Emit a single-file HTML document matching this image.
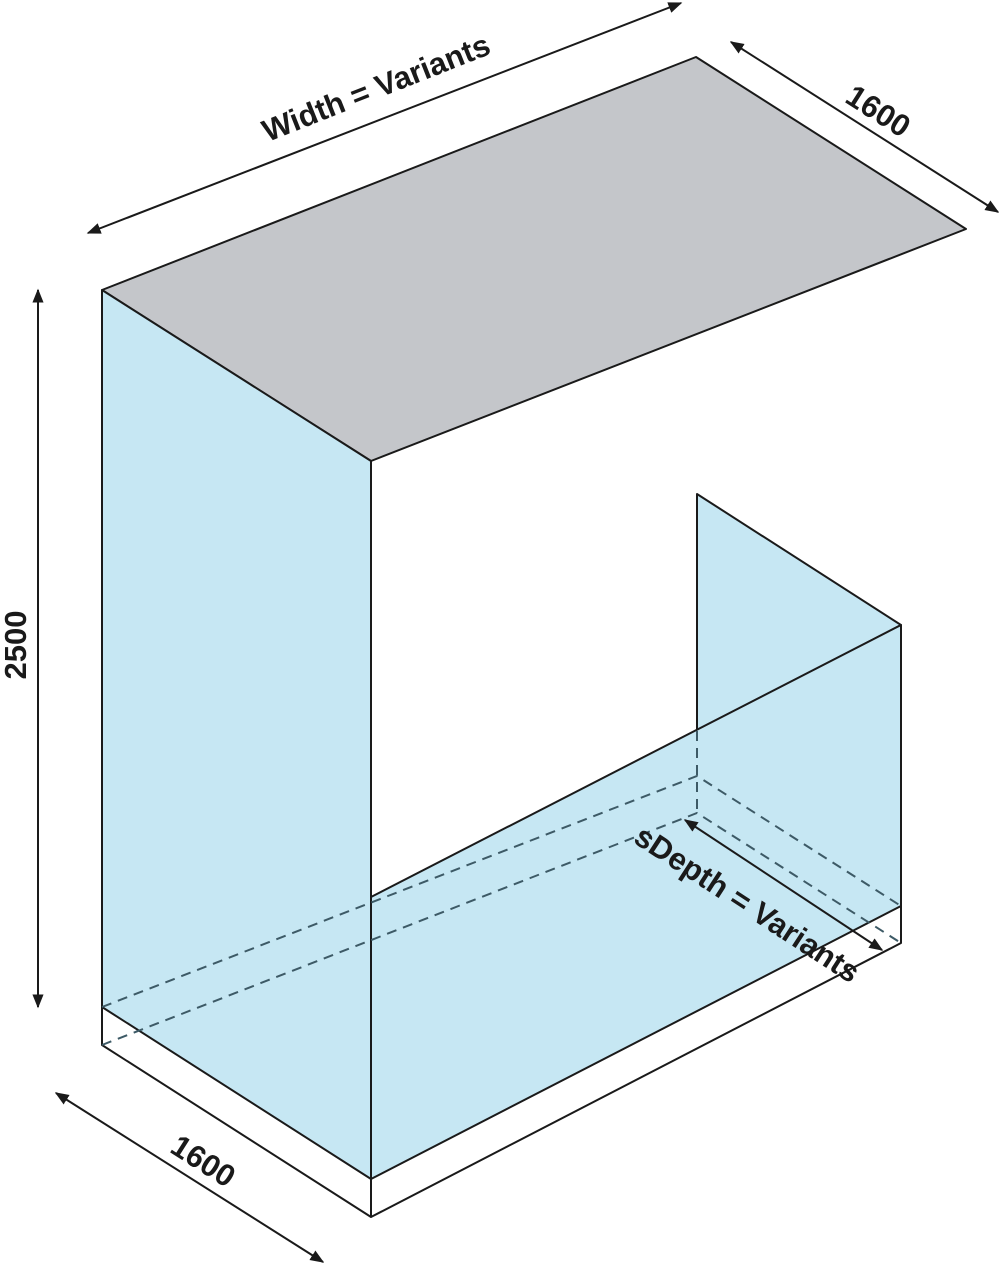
<!DOCTYPE html>
<html><head><style>body{margin:0;background:#fff}svg{display:block}</style></head><body>
<svg width="1000" height="1264" viewBox="0 0 1000 1264" xmlns="http://www.w3.org/2000/svg">
<defs><marker id="a" viewBox="0 0 10 10" refX="9" refY="5" markerWidth="7" markerHeight="7" orient="auto-start-reverse"><path d="M0,1 L10,5 L0,9 z" fill="#1a1a1a"/></marker></defs>
<g stroke="#1a1a1a" stroke-width="2" stroke-linejoin="round">
<polygon points="102,290 696,57 966,229 371,461" fill="#c4c6ca"/>
<polygon points="102,290 371,461 371,1179 102,1007" fill="#c6e7f3"/>
<polygon points="697,494 901,625 697,731" fill="#c6e7f3"/>
<polygon points="371,897 901,625 901,906 371,1179" fill="#c6e7f3"/>
<polyline points="102,1007 102,1045 371,1217 901,943 901,906" fill="none"/>
<line x1="371" y1="1179" x2="371" y2="1217"/>
</g>
<g stroke="#3d5a66" stroke-width="2" stroke-dasharray="10,7" fill="none">
<polyline points="102,1007 697,776 901,906"/>
<polyline points="102,1045 697,813 901,943"/>
<line x1="697" y1="731" x2="697" y2="813"/>
</g>
<g stroke="#1a1a1a" stroke-width="2" marker-start="url(#a)" marker-end="url(#a)">
<line x1="88" y1="233" x2="681" y2="3"/>
<line x1="731" y1="42" x2="998" y2="212"/>
<line x1="38" y1="290" x2="38" y2="1007"/>
<line x1="56" y1="1093" x2="323" y2="1262"/>
<line x1="685" y1="820" x2="882" y2="950"/>
</g>
<g font-family="Liberation Sans, sans-serif" font-weight="bold" font-size="31" fill="#1a1a1a" text-anchor="middle" dominant-baseline="middle">
<text transform="translate(377,90) rotate(-21.6)">Width = Variants</text>
<text transform="translate(877,113) rotate(32.5)">1600</text>
<text transform="translate(18,645) rotate(-90)">2500</text>
<text transform="translate(202,1163) rotate(32.5)">1600</text>
<text transform="translate(746,906) rotate(33)">sDepth = Variants</text>
</g>
</svg>
</body></html>
